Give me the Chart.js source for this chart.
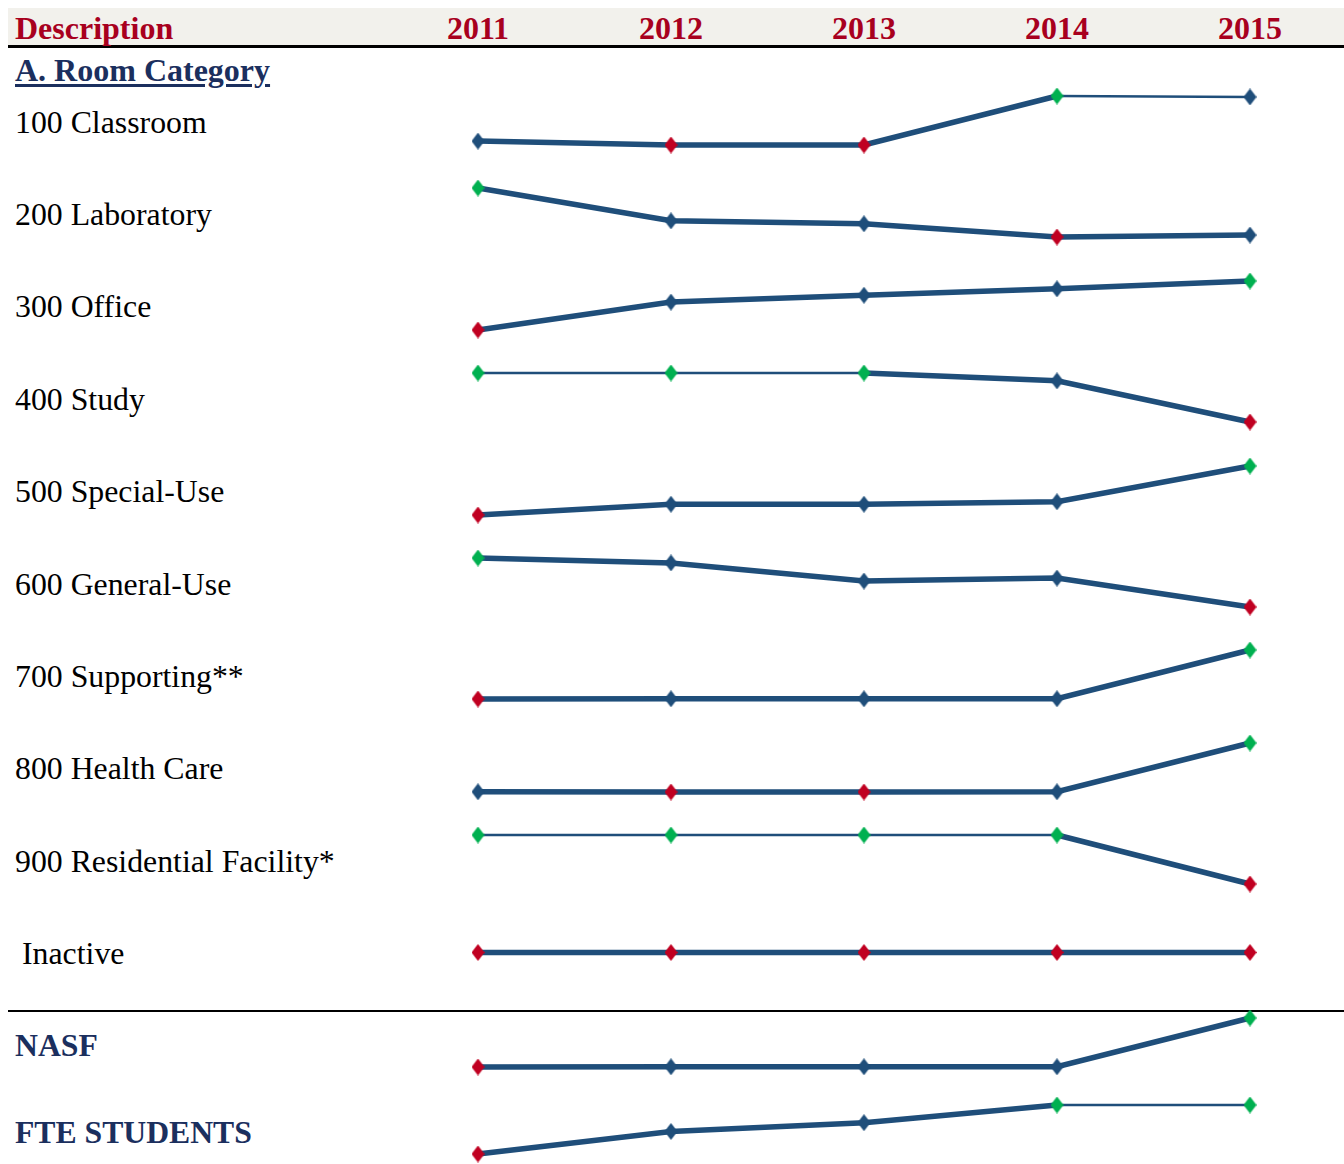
<!DOCTYPE html>
<html>
<head>
<meta charset="utf-8">
<script src="https://cdn.jsdelivr.net/npm/chart.js@4"></script>
<style>
  html, body { margin: 0; padding: 0; background: #fff; }
  #page { position: relative; width: 1344px; height: 1164px; overflow: hidden;
          font-family: "Liberation Serif", "Times New Roman", serif; }
  .head { position: absolute; left: 8px; top: 8px; width: 1336px; height: 38px; background: #f2f1ec; }
  .rule { position: absolute; left: 8px; width: 1336px; background: #000; }
  .txt { position: absolute; white-space: nowrap; line-height: 1; }
  .red { color: #a8001e; font-weight: bold; font-size: 32px; }
  .navy { color: #1b2f5e; font-weight: bold; font-size: 31.7px; }
  .plain { color: #000; font-size: 31.8px; }
  .spark { position: absolute; left: 470px; width: 788px; height: 69px; }
</style>
</head>
<body>
<div id="page"></div>
<script>
// tick labels / categories
const years = ["2011", "2012", "2013", "2014", "2015"];

// each row's level (0 = row low, 100 = row high)
const classroom   = [8, 0, 0, 100, 98];
const laboratory  = [100, 33, 27, 0, 4];
const office      = [0, 57, 71, 84, 100];
const study       = [100, 100, 100, 84, 0];
const specialUse  = [0, 22, 22, 27, 100];
const generalUse  = [100, 90, 53, 59, 0];
const supporting  = [0, 0.5, 0.5, 0.5, 100];
const healthCare  = [0.5, 0, 0, 0.5, 100];
const residential = [100, 100, 100, 100, 0];
const inactive    = [0, 0, 0, 0, 0];
const nasf        = [0, 0.5, 0.5, 0.5, 100];
const fteStudents = [0, 46, 64, 100, 100];

const roomLabels = ["100 Classroom", "200 Laboratory", "300 Office", "400 Study",
  "500 Special-Use", "600 General-Use", "700 Supporting**", "800 Health Care",
  "900 Residential Facility*", "Inactive"];
const roomSeries = [classroom, laboratory, office, study, specialUse, generalUse,
  supporting, healthCare, residential, inactive];
const totalLabels = ["NASF", "FTE STUDENTS"];
const totalSeries = [nasf, fteStudents];

const BLUE = "#1f4e7a", RED = "#c00021", GREEN = "#00b050";
const page = document.getElementById("page");

function addText(text, cls, left, centerY, extra) {
  const d = document.createElement("div");
  d.className = "txt " + cls;
  d.textContent = text;
  d.style.left = left + "px";
  d.style.top = (centerY - 16) + "px";
  if (extra) Object.assign(d.style, extra);
  page.appendChild(d);
  return d;
}

// header band
const head = document.createElement("div");
head.className = "head";
page.appendChild(head);
const r1 = document.createElement("div");
r1.className = "rule"; r1.style.top = "45px"; r1.style.height = "3px";
page.appendChild(r1);
addText("Description", "red", 15, 28);
years.forEach((y, i) => {
  const d = addText(y, "red", 478 + i * 193, 28);
  d.style.transform = "translateX(-50%)";
});

addText("A. Room Category", "navy", 15, 70, { fontSize: "32px", textDecoration: "underline", textUnderlineOffset: "3px" });

const r2 = document.createElement("div");
r2.className = "rule"; r2.style.top = "1010px"; r2.style.height = "2px";
page.appendChild(r2);

function diamond(color) {
  const c = document.createElement("canvas");
  c.width = 13; c.height = 17;
  const g = c.getContext("2d");
  g.fillStyle = color;
  g.beginPath();
  g.moveTo(6.5, 0); g.lineTo(13, 8.5); g.lineTo(6.5, 17); g.lineTo(0, 8.5);
  g.closePath(); g.fill();
  return c;
}
const marks = { blue: diamond(BLUE), red: diamond(RED), green: diamond(GREEN) };

function sparkline(values, top) {
  const wrap = document.createElement("div");
  wrap.className = "spark";
  wrap.style.top = (top - 10) + "px";
  const cv = document.createElement("canvas");
  wrap.appendChild(cv);
  page.appendChild(wrap);

  const lo = Math.min(...values), hi = Math.max(...values);
  const same = lo === hi;
  new Chart(cv, {
    type: "line",
    data: {
      labels: years,
      datasets: [{
        data: values,
        clip: false,
        borderColor: BLUE,
        borderWidth: 5.5,
        tension: 0,
        pointRadius: 6,
        pointStyle: (ctx) => {
          const v = values[ctx.dataIndex];
          if (v === lo) return marks.red;
          if (v === hi) return marks.green;
          return marks.blue;
        },
        segment: {
          // flat runs sitting at the row high are drawn with a thin line
          borderWidth: (ctx) => {
            const a = ctx.p0.parsed.y, b = ctx.p1.parsed.y;
            return (!same && a === hi && Math.abs(a - b) < 5) ? 2.5 : 5.5;
          },
        },
      }],
    },
    options: {
      responsive: true,
      maintainAspectRatio: false,
      animation: false,
      layout: { autoPadding: false, padding: { left: 8, right: 8, top: 10, bottom: 10 } },
      scales: {
        x: { display: false, offset: false },
        y: { display: false, min: same ? lo - 1 : lo, max: same ? hi + 1 : hi },
      },
      plugins: { legend: { display: false }, tooltip: { enabled: false } },
    },
  });
}

roomLabels.forEach((label, i) => {
  const top = 96 + i * 92.4;
  addText(label, "plain", label === "Inactive" ? 22 : 15, top + 26.5);
  sparkline(roomSeries[i], top);
});

const totalTops = [1018, 1105];
totalLabels.forEach((label, i) => {
  addText(label, "navy", 15, totalTops[i] + 28);
  sparkline(totalSeries[i], totalTops[i]);
});
</script>
</body>
</html>
